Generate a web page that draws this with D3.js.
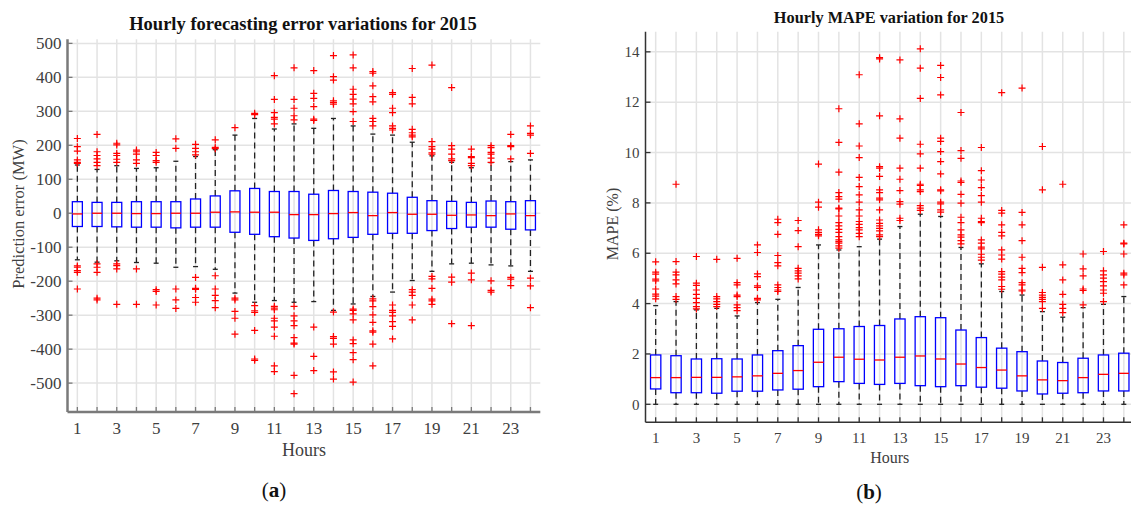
<!DOCTYPE html>
<html>
<head>
<meta charset="utf-8">
<script src="https://cdn.jsdelivr.net/npm/d3@7"></script>
<style>
  body { margin: 0; background: #fff; }
  svg { display: block; font-family: "Liberation Serif", "Times New Roman", serif; }
</style>
</head>
<body>
<svg width="1131" height="505"></svg>
<script>
// hours on the x axis, odd hours labelled
var hours = [1,2,3,4,5,6,7,8,9,10,11,12,13,14,15,16,17,18,19,20,21,22,23,24];
var hourTicks = [1,3,5,7,9,11,13,15,17,19,21,23];

// (a) prediction error, MW
var errTicks = [-500,-400,-300,-200,-100,0,100,200,300,400,500];
var errQ3  = [34,32,32,34,34,34,42,51,66,73,64,64,56,67,64,62,59,47,37,35,32,36,34,37];
var errMed = [-2,0,0,-1,-1,0,0,3,4,3,3,-4,-4,-1,2,-7,2,-3,-3,-6,-5,-7,-2,-7];
var errQ1  = [-39,-39,-40,-41,-41,-43,-41,-41,-56,-62,-69,-73,-80,-75,-71,-62,-59,-59,-51,-45,-41,-41,-47,-49];
var errHi  = [142,129,140,132,134,153,167,187,230,279,248,263,250,279,257,233,230,209,169,150,134,149,152,157];
var errLo  = [-137,-144,-140,-145,-147,-159,-157,-165,-235,-262,-257,-262,-260,-286,-267,-245,-232,-198,-171,-149,-147,-152,-155,-171];
var errOut = [
  [220,196,183,157,150,147,-155,-159,-169,-174,-223],
  [232,181,170,160,150,140,-149,-159,-174,-250,-255],
  [206,201,176,170,159,150,-149,-154,-164,-268],
  [186,181,174,157,147,-164,-268],
  [179,170,155,150,-225,-230,-270],
  [219,191,-223,-255,-280],
  [203,191,181,172,-189,-221,-224,-248,-262],
  [216,194,190,-184,-223,-242,-257,-278],
  [252,-250,-255,-289,-309,-356],
  [294,290,-272,-287,-292,-345,-429,-433],
  [405,335,296,282,277,263,-274,-279,-284,-309,-317,-335,-362,-449,-466],
  [428,335,309,287,275,-274,-302,-317,-331,-366,-382,-385,-477,-531],
  [420,353,338,314,277,273,-335,-421,-463],
  [464,402,392,331,326,321,-291,-363,-368,-385,-467,-488],
  [466,428,365,350,336,322,299,270,-282,-286,-296,-314,-373,-384,-410,-431,-497],
  [417,412,375,343,328,279,270,257,-252,-258,-275,-299,-321,-346,-350,-385,-449],
  [355,350,309,296,257,250,245,-270,-286,-292,-302,-319,-333,-370],
  [426,341,322,247,237,230,225,-225,-232,-242,-270,-314],
  [436,211,196,189,178,174,-186,-193,-221,-253,-258,-268],
  [370,199,189,174,160,155,-188,-203,-325],
  [189,167,164,147,140,-176,-196,-331],
  [199,193,179,174,162,150,-199,-227,-232],
  [232,199,196,160,-189,-194,-213],
  [257,235,230,176,-191,-214,-278]
];

// (b) MAPE, %
var mapeTicks = [0,2,4,6,8,10,12,14];
var mapeQ3  = [1.96,1.93,1.8,1.81,1.8,1.96,2.13,2.33,2.98,3.0,3.09,3.13,3.39,3.48,3.44,2.95,2.65,2.23,2.09,1.72,1.66,1.83,1.96,2.03];
var mapeMed = [1.06,1.06,1.07,1.07,1.09,1.13,1.23,1.34,1.67,1.87,1.79,1.76,1.87,1.92,1.8,1.6,1.46,1.36,1.13,0.97,0.94,1.06,1.19,1.23];
var mapeQ1  = [0.61,0.46,0.46,0.44,0.52,0.52,0.57,0.6,0.7,0.9,0.83,0.79,0.83,0.74,0.7,0.74,0.68,0.64,0.53,0.41,0.44,0.46,0.53,0.53];
var mapeHi  = [3.92,4.08,3.75,3.81,3.51,4.04,4.17,4.64,6.33,6.13,6.26,6.56,7.06,7.55,7.46,6.23,5.58,4.48,4.34,3.68,3.46,3.84,3.97,4.28];
var mapeLo  = [0,0,0,0,0,0,0,0,0,0,0,0,0,0,0,0,0,0,0,0,0,0,0,0];
var mapeOut = [
  [5.66,5.25,5.17,4.97,4.9,4.58,4.38,4.3,4.19],
  [8.74,5.67,5.25,5.14,4.94,4.78,4.28,4.17],
  [5.87,4.81,4.72,4.54,4.37,4.21,4.04,3.88,3.79],
  [5.76,4.28,4.19,4.08,3.97,3.88],
  [5.8,4.83,4.74,4.34,4.28,3.95,3.84,3.72],
  [6.33,6.03,5.18,5.07,4.7,4.64,4.21,4.15],
  [7.35,7.22,6.75,5.91,5.63,5.5,4.74,4.64,4.54,4.48],
  [7.3,6.9,6.26,5.4,5.3,5.21,5.1,4.98],
  [9.54,8.03,7.83,6.93,6.83,6.75,6.69],
  [11.74,10.4,9.22,8.41,8.25,8.15,7.79,7.76,7.48,7.22,7.09,6.95,6.83,6.66,6.53,6.46,6.4,6.29,6.2],
  [13.09,11.14,10.26,9.8,9.01,8.65,8.32,8.03,7.72,7.48,7.26,7.15,7.02,6.93,6.79,6.66],
  [13.77,13.72,11.46,9.44,9.38,9.05,8.52,8.41,8.19,8.12,7.72,7.32,7.19,7.09,6.99,6.89,6.73,6.66],
  [13.68,11.34,10.57,9.38,8.94,8.49,8.05,7.95,7.39,7.3],
  [14.12,13.35,12.15,10.33,9.95,9.38,8.74,8.69,8.52,8.45,7.89,7.79,7.7],
  [13.46,12.98,12.29,10.57,10.44,10.04,9.64,9.15,8.52,8.48,8.03,7.96,7.72,7.63],
  [11.59,10.08,9.77,8.87,8.81,8.34,7.99,7.43,7.22,6.93,6.73,6.64,6.5,6.37],
  [10.2,9.28,8.91,8.61,8.29,8.03,7.39,7.26,7.22,6.53,6.4,6.24,6.17,5.96,5.84,5.73],
  [12.38,7.7,7.59,7.13,6.83,6.69,6.13,5.93,5.77,5.27,5.17,5.05,4.94,4.68,4.57],
  [12.56,7.62,7.13,6.5,5.84,5.4,5.23,4.83,4.74,4.54,4.5],
  [10.24,8.52,5.44,4.44,4.34,4.25,4.17,4.08,3.81],
  [8.74,5.54,4.94,4.37,3.97,3.81,3.64],
  [5.97,5.38,5.1,4.58,4.52,3.95],
  [6.07,5.3,5.14,5.01,4.87,4.7,4.54,4.41,4.08],
  [7.13,6.4,6.37,5.97,5.21,5.14,4.74]
];

var svg = d3.select("svg");

function boxChart(cfg) {
  var x = d3.scaleLinear().domain([0.5, 24.5]).range(cfg.xr);
  var y = d3.scaleLinear().domain(cfg.yd).range(cfg.yr);
  var g = svg.append("g");
  var top = cfg.yr[1], bot = cfg.yr[0], left = cfg.xr[0], right = cfg.xr[1];

  // grid
  g.selectAll(".vg").data(hours).enter().append("line")
    .attr("x1", d => x(d)).attr("x2", d => x(d))
    .attr("y1", top).attr("y2", bot)
    .attr("stroke", "#e3e3e3").attr("stroke-width", 1.5);
  g.selectAll(".hg").data(cfg.ticks).enter().append("line")
    .attr("x1", left).attr("x2", right)
    .attr("y1", d => y(d)).attr("y2", d => y(d))
    .attr("stroke", "#e3e3e3").attr("stroke-width", 1.5);

  // whiskers
  var wh = g.append("g").attr("stroke", "#222").attr("stroke-width", 1.3);
  hours.forEach(function(h, i) {
    var cx = x(h);
    wh.append("line").attr("x1", cx).attr("x2", cx)
      .attr("y1", y(cfg.q3[i])).attr("y2", y(cfg.hi[i]))
      .attr("stroke-dasharray", "6,4");
    wh.append("line").attr("x1", cx).attr("x2", cx)
      .attr("y1", y(cfg.q1[i])).attr("y2", y(cfg.lo[i]))
      .attr("stroke-dasharray", "6,4");
    wh.append("line").attr("x1", cx - 2.5).attr("x2", cx + 2.5)
      .attr("y1", y(cfg.hi[i])).attr("y2", y(cfg.hi[i]));
    wh.append("line").attr("x1", cx - 2.5).attr("x2", cx + 2.5)
      .attr("y1", y(cfg.lo[i])).attr("y2", y(cfg.lo[i]));
  });

  // boxes
  g.selectAll(".box").data(hours).enter().append("rect")
    .attr("x", d => x(d) - cfg.bw / 2).attr("width", cfg.bw)
    .attr("y", (d, i) => y(cfg.q3[i]))
    .attr("height", (d, i) => y(cfg.q1[i]) - y(cfg.q3[i]))
    .attr("fill", "none").attr("stroke", "#0000ff").attr("stroke-width", 1.3);
  g.selectAll(".med").data(hours).enter().append("line")
    .attr("x1", d => x(d) - cfg.bw / 2).attr("x2", d => x(d) + cfg.bw / 2)
    .attr("y1", (d, i) => y(cfg.med[i])).attr("y2", (d, i) => y(cfg.med[i]))
    .attr("stroke", "#ff0000").attr("stroke-width", 1.3);

  // outliers
  var pts = [];
  hours.forEach(function(h, i) { cfg.out[i].forEach(function(v) { pts.push([h, v]); }); });
  g.selectAll(".out").data(pts).enter().append("path")
    .attr("transform", d => "translate(" + x(d[0]) + "," + y(d[1]) + ")")
    .attr("d", "M-3.5,0H3.5M0,-3.5V3.5")
    .attr("stroke", "#ff0000").attr("stroke-width", 1.2).attr("fill", "none");

  // axes
  var ax = g.append("g").attr("stroke", cfg.axisColor).attr("stroke-width", cfg.axisW);
  ax.append("line").attr("x1", left).attr("x2", left).attr("y1", top).attr("y2", bot);
  ax.append("line").attr("x1", left).attr("x2", right).attr("y1", bot).attr("y2", bot);
  ax.selectAll(".yt").data(cfg.ticks).enter().append("line")
    .attr("x1", left).attr("x2", left + 5)
    .attr("y1", d => y(d)).attr("y2", d => y(d)).attr("stroke-width", 1.3);
  ax.selectAll(".xt").data(hours).enter().append("line")
    .attr("x1", d => x(d)).attr("x2", d => x(d))
    .attr("y1", bot).attr("y2", bot - 5).attr("stroke-width", 1.3);

  g.selectAll(".yl").data(cfg.ticks).enter().append("text")
    .attr("x", left - 6).attr("y", d => y(d)).attr("dy", "0.35em")
    .attr("text-anchor", "end").attr("font-size", cfg.fs).attr("fill", "#404040")
    .text(d => cfg.fmt(d));
  g.selectAll(".xl").data(hourTicks).enter().append("text")
    .attr("x", d => x(d)).attr("y", bot + cfg.xlOff).attr("dy", "0.35em")
    .attr("text-anchor", "middle").attr("font-size", cfg.fs).attr("fill", "#404040")
    .text(d => d);

  var cx = (left + right) / 2;
  g.append("text").attr("x", cx).attr("y", cfg.hoursY).attr("dy", "0.35em")
    .attr("text-anchor", "middle").attr("font-size", cfg.fs + 1).attr("fill", "#404040")
    .text("Hours");
  g.append("text")
    .attr("transform", "translate(" + cfg.ylX + "," + cfg.ylY + ") rotate(-90)")
    .attr("dy", "0.35em").attr("text-anchor", "middle")
    .attr("font-size", cfg.ylfs).attr("fill", "#404040")
    .text(cfg.ylabel);
  g.append("text").attr("x", cfg.titleX).attr("y", cfg.titleY)
    .attr("text-anchor", "middle").attr("font-size", cfg.tfs).attr("font-weight", "bold")
    .attr("fill", "#111").text(cfg.title);

  var sub = g.append("text").attr("x", cfg.subX).attr("y", cfg.subY).attr("dy", "0.35em")
    .attr("text-anchor", "middle").attr("font-size", 21).attr("fill", "#111");
  sub.append("tspan").text("(");
  sub.append("tspan").attr("font-weight", "bold").text(cfg.sub);
  sub.append("tspan").text(")");
}

boxChart({
  xr: [67.5, 540.3], yd: [-585, 512], yr: [412, 39.3],
  ticks: errTicks, q1: errQ1, q3: errQ3, med: errMed, lo: errLo, hi: errHi, out: errOut,
  bw: 10, fs: 17, fmt: d => d, xlOff: 16, hoursY: 450, ylX: 18, ylY: 214, ylfs: 16.5,
  axisColor: "#7a7a7a", axisW: 2.5,
  ylabel: "Prediction error (MW)", title: "Hourly forecasting error variations for 2015",
  titleX: 303, titleY: 30, tfs: 18.5, sub: "a", subX: 274, subY: 490
});

boxChart({
  xr: [645.5, 1134], yd: [-0.715, 14.8], yr: [422.3, 31.7],
  ticks: mapeTicks, q1: mapeQ1, q3: mapeQ3, med: mapeMed, lo: mapeLo, hi: mapeHi, out: mapeOut,
  bw: 10.3, fs: 15, fmt: d => d, xlOff: 15, hoursY: 457, ylX: 612, ylY: 224, ylfs: 16,
  axisColor: "#333", axisW: 1.5,
  ylabel: "MAPE (%)", title: "Hourly MAPE variation for 2015",
  titleX: 889, titleY: 23, tfs: 16.3, sub: "b", subX: 869, subY: 492
});
</script>
</body>
</html>
